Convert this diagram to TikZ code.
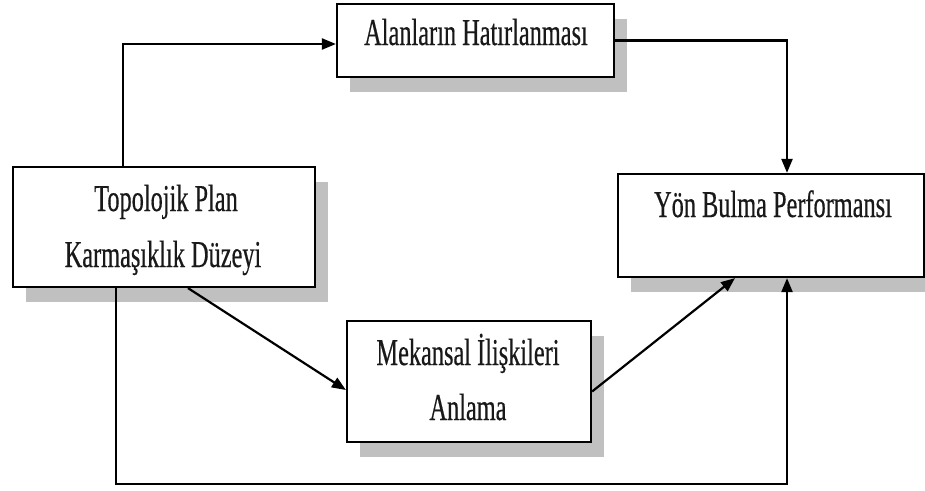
\documentclass[tikz,border=0pt]{standalone}
\usepackage{fontspec}
\newfontfamily\labfont[FakeStretch=0.64,FakeBold=0.4]{Liberation Serif}
\usetikzlibrary{arrows.meta,shadows}
\definecolor{shadowgray}{HTML}{C0C0C0}
\tikzset{
  box/.style={draw=black, line width=2.2pt, fill=white, inner sep=0pt, rectangle,
    drop shadow={shadow xshift=13pt, shadow yshift=-15pt, fill=shadowgray, opacity=1}},
  lab/.style={anchor=base, inner sep=0pt, font=\labfont\fontsize{38}{38}\selectfont, text=black!90},
  arr/.style={line width=2.2pt, -{Triangle[length=14pt,width=11pt]}}
}
\begin{document}
\begin{tikzpicture}[x=1pt,y=-1pt]
\useasboundingbox[fill=white] (0,0) rectangle (925,490);
% boxes
\node[box, minimum width=277pt, minimum height=73pt] (top) at (475.5,40.5) {};
\node[box, minimum width=302pt, minimum height=120pt] (left) at (164,227) {};
\node[box, minimum width=306pt, minimum height=103pt] (right) at (771,225.5) {};
\node[box, minimum width=244pt, minimum height=121pt] (mid) at (469,381.5) {};
% labels
\node[lab] (t1) at (476,45) {Alanların Hatırlanması};
\node[lab] (l1) at (166,211) {Topolojik Plan};
\node[lab] (l2) at (163,267) {Karmaşıklık Düzeyi};
\node[lab] (r1) at (773,217) {Yön Bulma Performansı};
\node[lab] (m1) at (468,365) {Mekansal İlişkileri};
\node[lab] (m2) at (468,420) {Anlama};
% connectors
\coordinate (c1) at (116,484);
\draw[arr] ([xshift=-41pt]left.north) |- ([yshift=-3.5pt]top.west);
\draw[arr] (top.east) -| ([xshift=16pt]right.north);
\draw[arr] ([xshift=-48pt]left.south) -- (c1) -| ([xshift=16pt]right.south);
\draw[arr] ([xshift=24pt]left.south) -- ([yshift=-8.5pt]mid.west);
\draw[arr] ([yshift=-10pt]mid.east) -- ([xshift=-36pt]right.south);
\end{tikzpicture}
\end{document}
